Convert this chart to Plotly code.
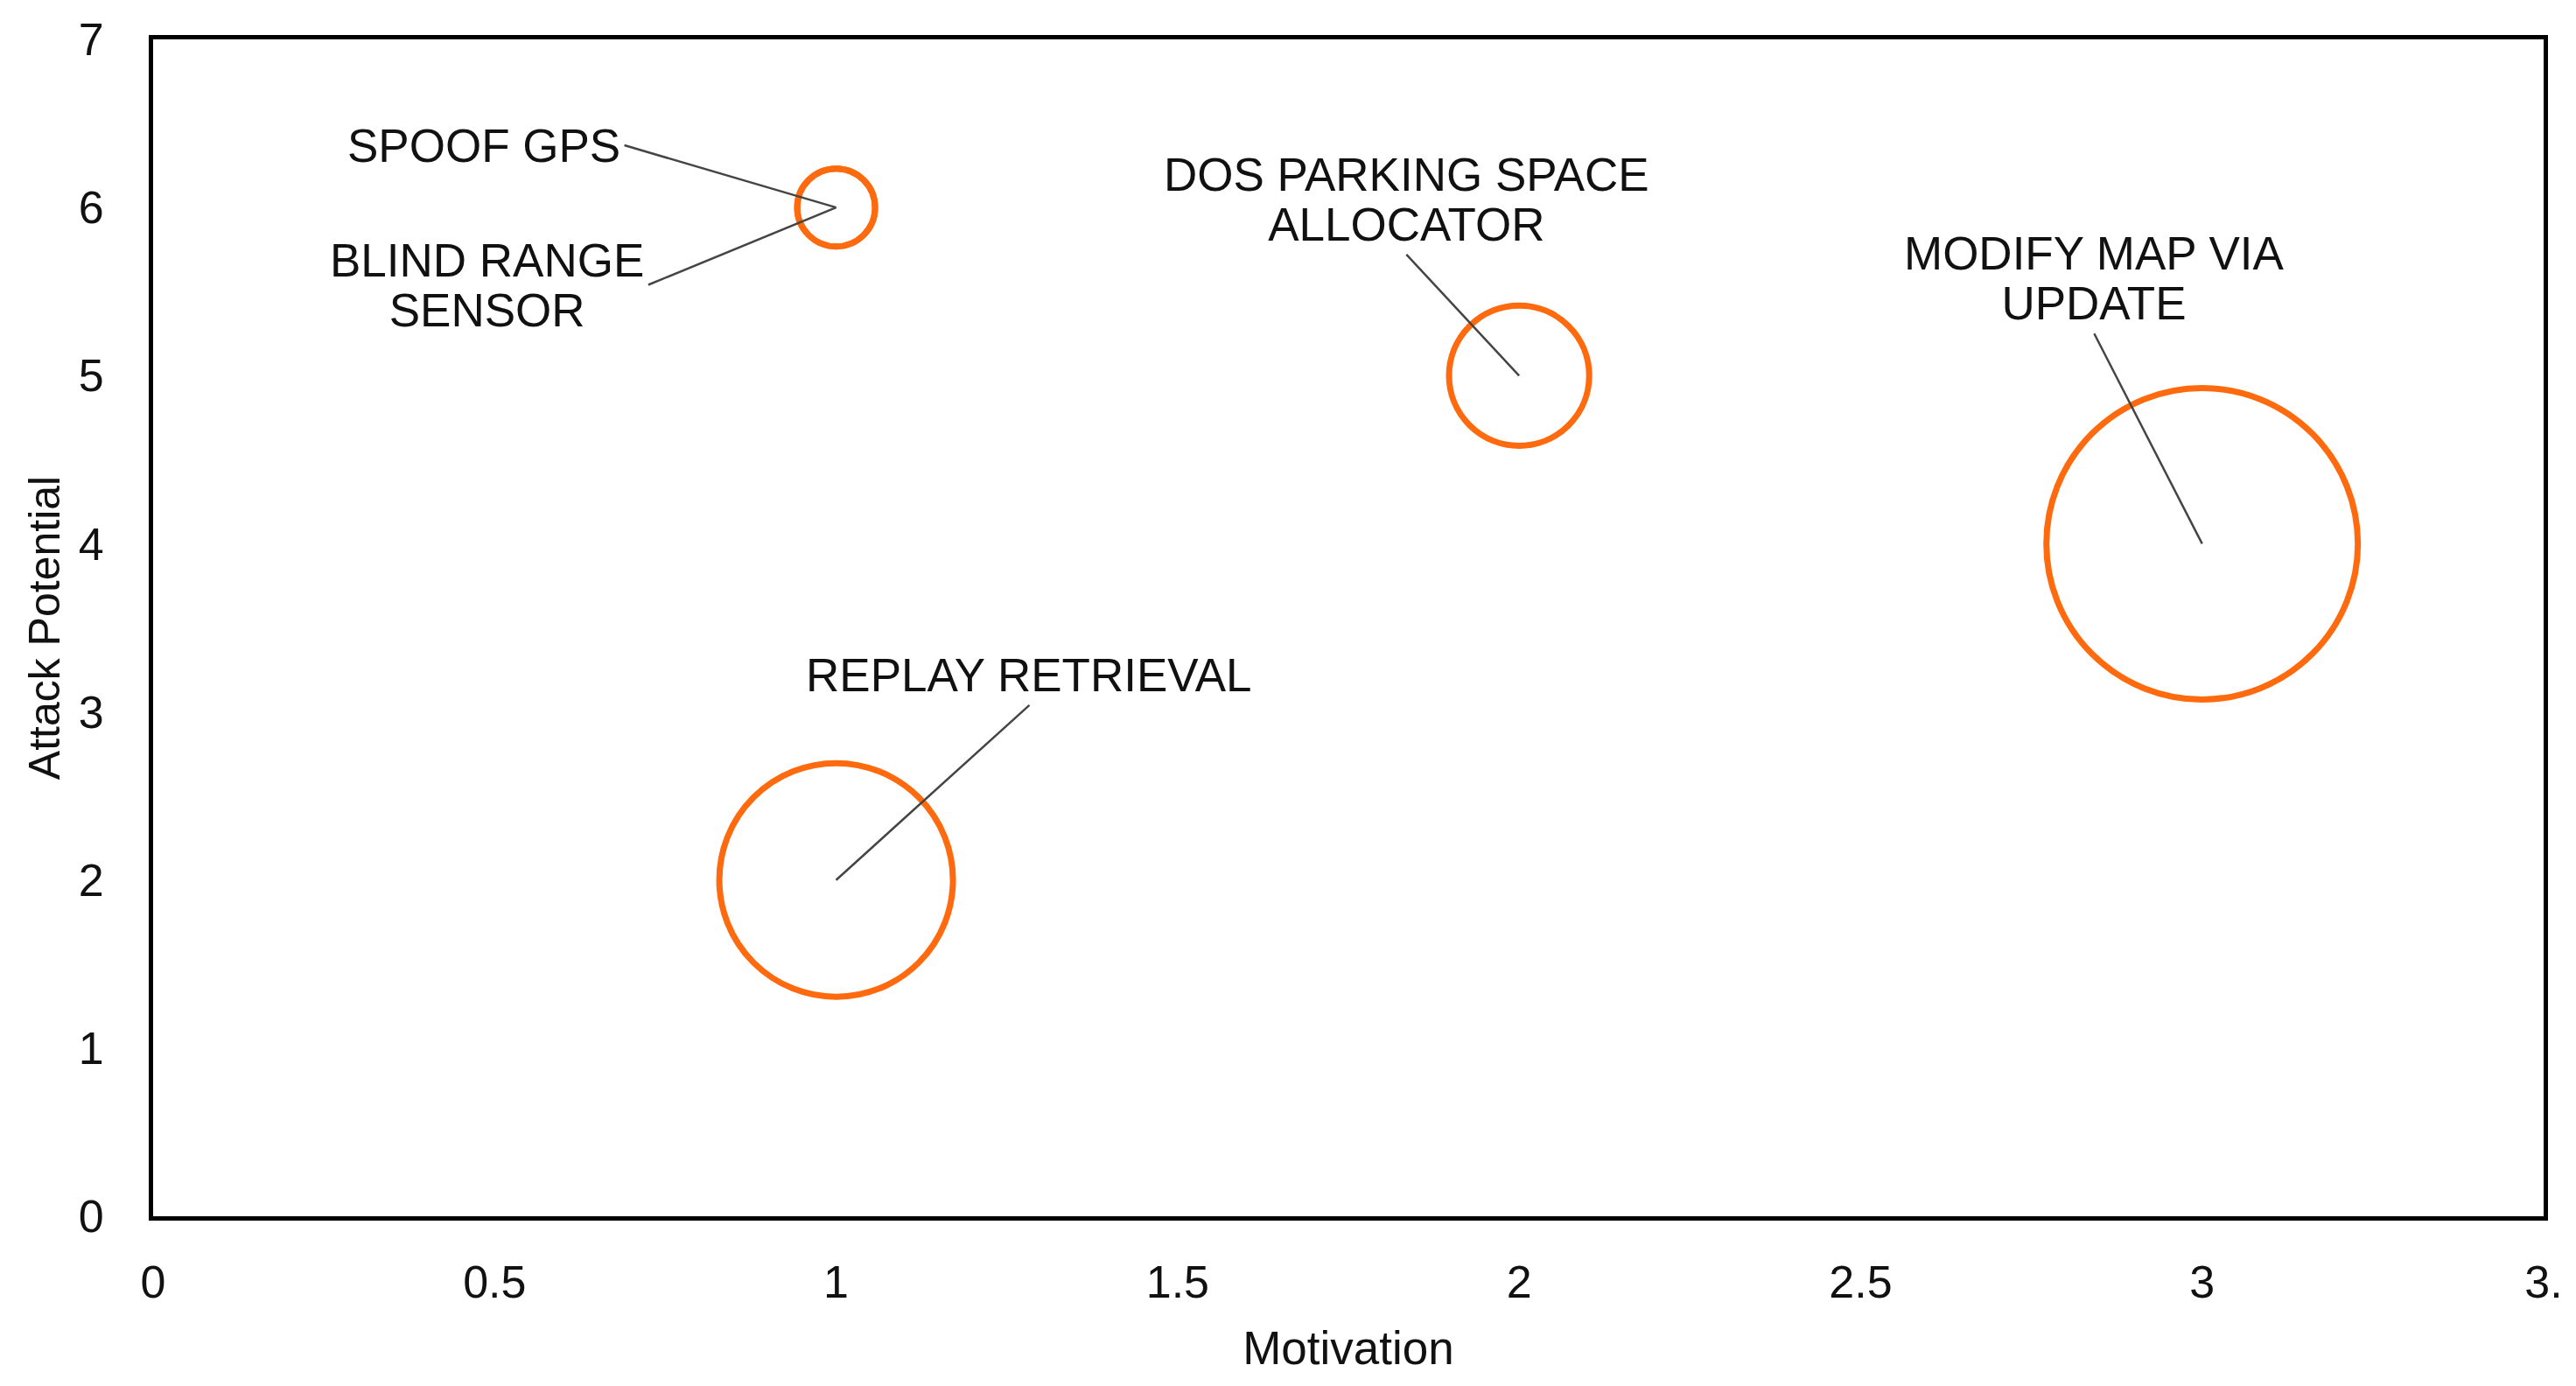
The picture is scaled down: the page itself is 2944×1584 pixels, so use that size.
import plotly.graph_objects as go

# -------------------------------
# Datos
# -------------------------------
amenazas = ["SPOOF GPS", "BLIND RANGE SENSOR", "DOS PARKING SPACE ALLOCATOR",
            "MODIFY MAP VIA UPDATE", "REPLAY RETRIEVAL"]
motivacion = [1, 1, 2, 3, 1]
potencial_ataque = [6, 6, 5, 4, 2]
tamano_burbuja = [1, 1, 1.8, 4, 3]

x_ticks = [0, 0.5, 1, 1.5, 2, 2.5, 3, 3.5]
x_ticktext = ["0", "0.5", "1", "1.5", "2", "2.5", "3", "3."]
y_ticks = [0, 1, 2, 3, 4, 5, 6, 7]

# Etiquetas (cada renglón por separado), posición de la cola de la línea y anclaje
etiquetas = [["SPOOF GPS"], ["BLIND RANGE", "SENSOR"], ["DOS PARKING SPACE", "ALLOCATOR"],
             ["MODIFY MAP VIA", "UPDATE"], ["REPLAY RETRIEVAL"]]
cola_x = [0.69, 0.725, 1.835, 2.842, 1.283]
cola_y = [6.37, 5.54, 5.72, 5.25, 3.04]
anclaje_x = ["right", "right", "center", "center", "center"]
anclaje_y = ["middle", "middle", "bottom", "bottom", "bottom"]

NARANJA = "#FF6A0E"
FUENTE = "Liberation Sans, Arial, sans-serif"
TEXTO = "#111111"

fig = go.Figure()

fig.add_trace(
    go.Scatter(
        x=motivacion,
        y=potencial_ataque,
        mode="markers",
        text=amenazas,
        marker=dict(
            size=tamano_burbuja,
            sizemode="diameter",
            sizeref=1 / 89,
            color="rgba(0,0,0,0)",
            opacity=1,
            line=dict(color=NARANJA, width=7),
        ),
        hovertemplate="%{text}<br>Motivation: %{x}<br>Attack Potential: %{y}<extra></extra>",
        showlegend=False,
    )
)

# --- Etiquetas con líneas guía ---
# El interlineado de plotly sale de la fuente base (1.3 em), así que la base es
# más chica y el texto se agranda con un span para que los renglones queden juntos
for i, renglones in enumerate(etiquetas):
    txt = "<br>".join('<span style="font-size:53px">%s</span>' % r for r in renglones)
    fig.add_annotation(
        x=motivacion[i], y=potencial_ataque[i],
        xref="x", yref="y",
        ax=cola_x[i], ay=cola_y[i],
        axref="x", ayref="y",
        text=txt,
        showarrow=True,
        arrowhead=0,
        arrowwidth=2.5,
        arrowcolor="#454545",
        standoff=0,
        xanchor=anclaje_x[i],
        yanchor=anclaje_y[i],
        align="center",
        borderpad=4,
        font=dict(family=FUENTE, size=44, color=TEXTO),
    )

fig.update_xaxes(
    range=[0, 3.5],
    tickvals=x_ticks,
    ticktext=x_ticktext,
    showgrid=False,
    zeroline=False,
    showline=True,
    linecolor="black",
    linewidth=5,
    mirror=True,
    ticks="outside",
    ticklen=26,
    tickcolor="rgba(0,0,0,0)",
    automargin=False,
    tickfont=dict(family=FUENTE, size=52, color=TEXTO),
    title=dict(text="Motivation", font=dict(family=FUENTE, size=53, color=TEXTO), standoff=30),
)

fig.update_yaxes(
    range=[0, 7],
    tickvals=y_ticks,
    showgrid=False,
    zeroline=False,
    showline=True,
    linecolor="black",
    linewidth=5,
    mirror=True,
    ticks="outside",
    ticklen=41,
    tickcolor="rgba(0,0,0,0)",
    automargin=False,
    tickfont=dict(family=FUENTE, size=52, color=TEXTO),
    title=dict(text="Attack Potential", font=dict(family=FUENTE, size=50, color=TEXTO), standoff=7),
)

fig.update_layout(
    width=2944,
    height=1584,
    margin=dict(l=175, r=37, t=45, b=194),
    plot_bgcolor="white",
    paper_bgcolor="white",
    showlegend=False,
)

fig.write_html("out.html", config={"displayModeBar": False},
               post_script="document.body.style.margin='0';")
